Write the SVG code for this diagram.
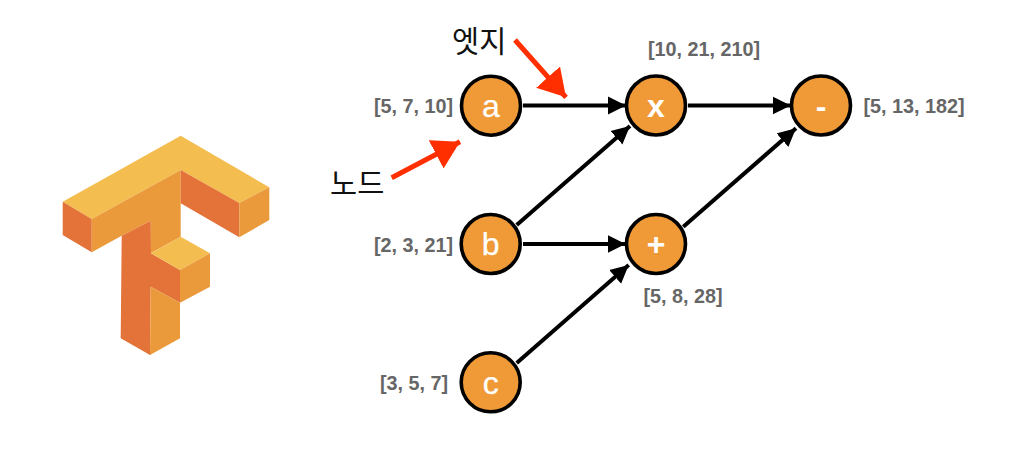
<svg xmlns="http://www.w3.org/2000/svg" width="1021" height="473" viewBox="0 0 1021 473">
<defs>
<marker id="ah" markerUnits="userSpaceOnUse" markerWidth="18" markerHeight="19" refX="18" refY="9.5" orient="auto"><path d="M0 0.5L18 9.5L0 18.5Z" fill="#000"/></marker>
<marker id="rh" markerUnits="userSpaceOnUse" markerWidth="28" markerHeight="32" refX="27" refY="16" orient="auto"><path d="M0 0L27 16L0 32Z" fill="#ff2f00"/></marker>
</defs>
<style>
.n{fill:#f09a37;stroke:#000;stroke-width:3.6}
.t{font:32px "Liberation Sans",Arial,sans-serif;fill:#fff;stroke:#fff;stroke-width:.25;text-anchor:middle}
.b{font-weight:bold;stroke:none}
.l{font:bold 19.8px "Liberation Sans",Arial,sans-serif;fill:#666}
.e{stroke:#000;stroke-width:4;fill:none;marker-end:url(#ah)}
.r{stroke:#ff2f00;stroke-width:5;fill:none;marker-end:url(#rh)}
.k{font:400 29.5px "Noto Sans CJK KR","Noto Sans",sans-serif;fill:#111}
.y{fill:#f3bd50}.o{fill:#ea9a3b}.d{fill:#e4733a}
</style>
<rect width="1021" height="473" fill="#fff"/>
<g id="logo">
<polygon class="y" points="180.7,135.7 269.3,187.3 239.3,203 180.7,170 91.7,219 62.7,201.7"/>
<polygon class="o" points="180.7,170 91.7,219 91.7,252.3 121.7,235.7 150.7,220.7 150.7,253.3 180.7,236.7"/>
<polygon class="d" points="121.7,235.7 150.7,220.7 151,253.3 180,270 180,302.7 150.7,286.7 150,355 120.7,338.3"/>
<polygon class="d" points="62.7,201.7 91.7,219 91.7,252.3 62.7,235"/>
<polygon class="d" points="180.7,170 239.3,203 239.3,237.3 180.7,203.3"/>
<polygon class="o" points="239.3,203 269.3,187.3 269.3,220 239.3,237.3"/>
<polygon class="y" points="151,253.3 180.7,236.7 210,253.3 180,270"/>
<polygon class="o" points="180,270 210,253.3 210,286.7 180,302.7"/>
<polygon class="o" points="150.7,286.7 180,302.7 180,338.3 150,355"/>
</g>
<g id="connectors">
<line class="e" x1="523" y1="105.5" x2="626" y2="105.5"/>
<line class="e" x1="516.7" y1="225" x2="630" y2="126"/>
<line class="e" x1="523" y1="244" x2="625.5" y2="244"/>
<line class="e" x1="516.7" y1="363" x2="628.7" y2="265"/>
<line class="e" x1="688" y1="105.5" x2="790.7" y2="105.5"/>
<line class="e" x1="683.3" y1="226.7" x2="796" y2="128.3"/>
<line class="r" x1="515" y1="40" x2="566" y2="97.3"/>
<line class="r" x1="391.7" y1="177.7" x2="460" y2="141.7"/>
</g>
<g id="node-a"><circle class="n" cx="491" cy="105.7" r="29.5"/><text class="t" x="491" y="117">a</text><text class="l" x="374" y="112.5">[5, 7, 10]</text></g>
<g id="node-b"><circle class="n" cx="490.7" cy="244" r="29.5"/><text class="t" x="490.7" y="255">b</text><text class="l" x="374" y="251.5">[2, 3, 21]</text></g>
<g id="node-c"><circle class="n" cx="490.7" cy="382.3" r="29.5"/><text class="t" x="490.7" y="393.5">c</text><text class="l" x="380" y="390">[3, 5, 7]</text></g>
<g id="node-x"><circle class="n" cx="656" cy="105.5" r="29.5"/><text class="t b" x="656" y="117">x</text><text class="l" x="648" y="55.5">[10, 21, 210]</text></g>
<g id="node-plus"><circle class="n" cx="656" cy="244" r="29.5"/><text class="t b" x="656" y="255">+</text><text class="l" x="643.5" y="303">[5, 8, 28]</text></g>
<g id="node-minus"><circle class="n" cx="821" cy="105.5" r="29.5"/><text class="t b" x="821" y="117">-</text><text class="l" x="863.5" y="113">[5, 13, 182]</text></g>
<text class="k" x="452" y="52">엣지</text>
<text class="k" x="330" y="194">노드</text>
</svg>
